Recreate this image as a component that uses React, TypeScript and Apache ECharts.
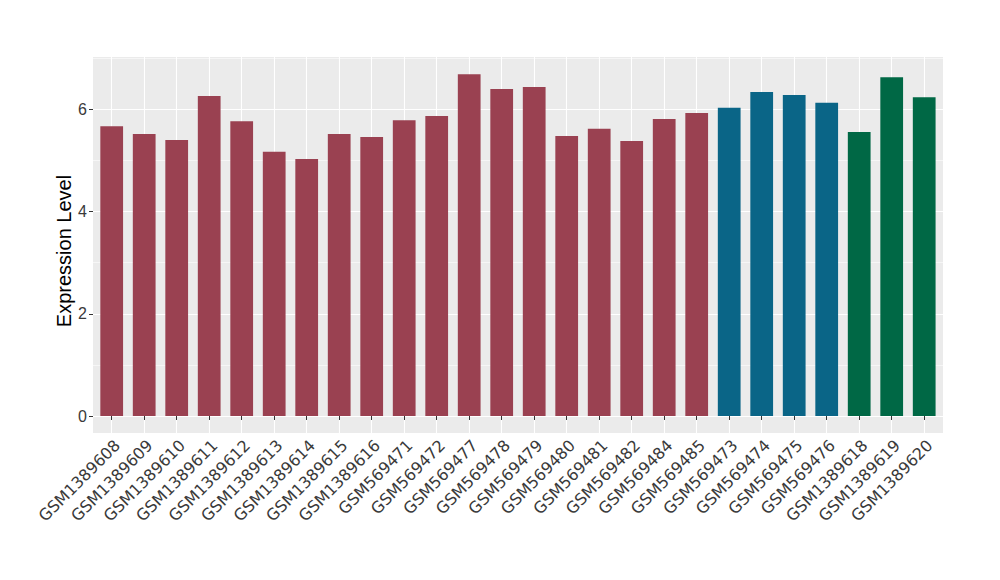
import React, { useEffect, useRef } from "react";
import * as echarts from "echarts";

const categories = [
  "GSM1389608", "GSM1389609", "GSM1389610", "GSM1389611", "GSM1389612",
  "GSM1389613", "GSM1389614", "GSM1389615", "GSM1389616", "GSM569471",
  "GSM569472", "GSM569477", "GSM569478", "GSM569479", "GSM569480",
  "GSM569481", "GSM569482", "GSM569484", "GSM569485", "GSM569473",
  "GSM569474", "GSM569475", "GSM569476", "GSM1389618", "GSM1389619",
  "GSM1389620",
];
const values = [
  5.67, 5.52, 5.40, 6.26, 5.77, 5.17, 5.03, 5.52, 5.46, 5.79,
  5.87, 6.69, 6.40, 6.44, 5.48, 5.62, 5.38, 5.81, 5.93, 6.03,
  6.34, 6.28, 6.13, 5.56, 6.63, 6.24,
];
const groups = [
  0, 0, 0, 0, 0, 0, 0, 0, 0, 0,
  0, 0, 0, 0, 0, 0, 0, 0, 0, 1,
  1, 1, 1, 2, 2, 2,
];
const groupColors = ["#9A4151", "#0A6587", "#006845"];
const yTicks = [0, 2, 4, 6];

const FONT = "Liberation Sans";
const LABEL_FONT = "DejaVu Sans";
const PL = 93, PR = 943, PT = 57, PB = 433;
const Y0 = 416, UNIT = 51.1;
const C0 = 111.7, STEP = 32.5;

export default function App() {
  const ref = useRef<HTMLDivElement>(null);
  useEffect(() => {
    if (!ref.current) return;
    const chart = echarts.init(ref.current, undefined, { renderer: "svg" });
    const n = categories.length;
    const yMaxMajor = yTicks[yTicks.length - 1];
    const hidden = { show: false };
    const option: any = {
      animation: false,
      backgroundColor: "#FFFFFF",
      textStyle: { fontFamily: FONT },
      grid: [
        { left: PL, top: PT, width: PR - PL, height: PB - PT, show: true, backgroundColor: "#EBEBEB", borderWidth: 0 },
        { left: PL, top: Y0 - 7 * UNIT, width: PR - PL, height: 7 * UNIT },
        { left: PL, top: Y0 - yMaxMajor * UNIT, width: PR - PL, height: yMaxMajor * UNIT },
        { left: C0, top: PT, width: STEP * (n - 1), height: PB - PT },
        { left: C0 - STEP / 2, top: Y0 - 7 * UNIT, width: STEP * n, height: 7 * UNIT },
      ],
      xAxis: [
        { gridIndex: 0, type: "value", show: false, min: 0, max: 1 },
        { gridIndex: 1, type: "value", show: false, min: 0, max: 1 },
        { gridIndex: 2, type: "value", show: false, min: 0, max: 1 },
        {
          gridIndex: 3, type: "value", min: 0, max: n - 1, interval: 1,
          axisLine: hidden, axisTick: hidden, axisLabel: hidden,
          splitLine: { show: true, lineStyle: { color: "#FFFFFF", width: 1.1 } },
        },
        {
          gridIndex: 4, type: "category", data: categories, boundaryGap: true, offset: PB - Y0,
          axisLine: hidden,
          axisTick: { show: true, alignWithLabel: true, length: 4, lineStyle: { color: "#333333", width: 1 } },
          axisLabel: {
            interval: 0, rotate: 45, fontSize: 16, color: "#3A3A3A", margin: 4,
            fontFamily: LABEL_FONT, verticalAlign: "top",
          },
          splitLine: hidden,
        },
      ],
      yAxis: [
        { gridIndex: 0, type: "value", show: false, min: 0, max: 1 },
        {
          gridIndex: 1, type: "value", min: 0, max: 7, interval: 1,
          axisLine: hidden, axisTick: hidden, axisLabel: hidden,
          splitLine: { show: true, lineStyle: { color: "#FFFFFF", width: 0.55 } },
        },
        {
          gridIndex: 2, type: "value", min: 0, max: yMaxMajor, interval: 2,
          axisLine: hidden,
          axisTick: { show: true, length: 4, lineStyle: { color: "#333333", width: 1 } },
          axisLabel: { fontSize: 16, color: "#3A3A3A", margin: 6, fontFamily: FONT },
          splitLine: { show: true, lineStyle: { color: "#FFFFFF", width: 1.1 } },
        },
        { gridIndex: 3, type: "value", show: false, min: 0, max: 1 },
        { gridIndex: 4, type: "value", show: false, min: 0, max: 7 },
      ],
      series: [
        {
          type: "bar",
          xAxisIndex: 4,
          yAxisIndex: 4,
          barCategoryGap: "30%",
          data: values.map((v, i) => ({ value: v, itemStyle: { color: groupColors[groups[i]] } })),
        },
      ],
      graphic: [
        {
          type: "text",
          x: 64,
          y: (PT + PB) / 2 + 6,
          rotation: Math.PI / 2,
          style: {
            text: "Expression Level",
            fontSize: 20,
            fontFamily: FONT,
            fill: "#000000",
            textAlign: "center",
            textVerticalAlign: "middle",
          },
        },
      ],
    };
    chart.setOption(option);
    return () => chart.dispose();
  }, []);
  return <div ref={ref} style={{ width: 1000, height: 580, margin: -8 }} />;
}
